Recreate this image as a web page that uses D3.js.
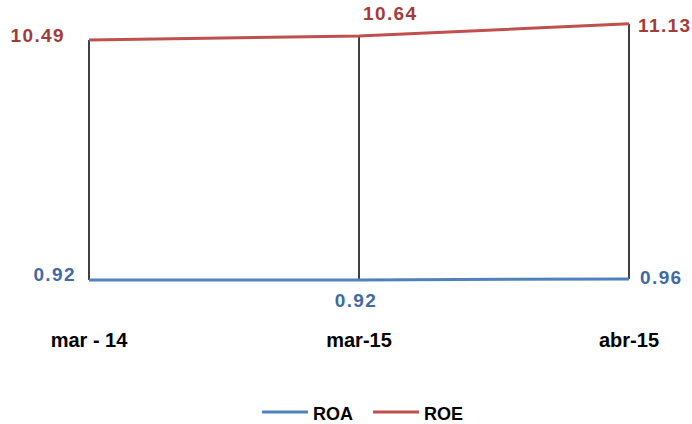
<!DOCTYPE html>
<html>
<head>
<meta charset="utf-8">
<script src="https://cdn.jsdelivr.net/npm/d3@7"></script>
<style>
  html, body { margin: 0; padding: 0; background: #fff; }
  svg { display: block; }
  text { font-family: "Liberation Sans", Arial, sans-serif; font-weight: bold; }
</style>
</head>
<body>
<script>
const categories = ["mar - 14", "mar-15", "abr-15"];
const roaValues = [0.92, 0.92, 0.96];
const roeValues = [10.49, 10.64, 11.13];
const seriesNames = ["ROA", "ROE"];

const W = 692, H = 424;
const svg = d3.select("body").append("svg").attr("width", W).attr("height", H);

const x = d3.scalePoint().domain(categories).range([89, 629]);
const y = d3.scaleLinear().domain([0, 12]).range([303, 2]);

const colors = { ROA: "#4F81BD", ROE: "#C0504D" };
const labelColors = { ROA: "#3F6AA3", ROE: "#A33B38" };

// drop lines
svg.append("g").selectAll("line").data(categories).join("line")
  .attr("x1", d => x(d)).attr("x2", d => x(d))
  .attr("y1", (d, i) => y(roeValues[i])).attr("y2", (d, i) => y(roaValues[i]))
  .attr("stroke", "#000").attr("stroke-width", 1.5);

const line = d3.line().x((d, i) => x(categories[i])).y(d => y(d));
[["ROA", roaValues], ["ROE", roeValues]].forEach(([name, vals]) => {
  svg.append("path").datum(vals).attr("d", line)
    .attr("fill", "none").attr("stroke", colors[name]).attr("stroke-width", 3);
});

// data labels
const fmt = d3.format(".2f");
const labelStyle = (sel) => sel.attr("font-size", 19).attr("letter-spacing", 1.4);
// placements: [dx, dy, anchor] relative to point
const roePlace = [[-24, 2, "end"], [4, -16, "start"], [9, 8, "start"]];
const roaPlace = [[-13, 1, "end"], [-3, 27, "middle"], [11, 5, "start"]];
[["ROE", roeValues, roePlace], ["ROA", roaValues, roaPlace]].forEach(([name, vals, pl]) => {
  svg.append("g").selectAll("text").data(vals).join("text")
    .attr("x", (d, i) => x(categories[i]) + pl[i][0])
    .attr("y", (d, i) => y(d) + pl[i][1])
    .attr("text-anchor", (d, i) => pl[i][2])
    .attr("fill", labelColors[name])
    .call(labelStyle)
    .text(d => fmt(d));
});

// category labels
svg.append("g").selectAll("text").data(categories).join("text")
  .attr("x", d => x(d)).attr("y", 347)
  .attr("text-anchor", "middle").attr("font-size", 20).attr("fill", "#000")
  .text(d => d);

// legend
const legendItems = [
  { name: "ROA", x: 262 },
  { name: "ROE", x: 373 }
];
const lg = svg.append("g").selectAll("g").data(legendItems).join("g")
  .attr("transform", d => `translate(${d.x},412)`);
lg.append("line").attr("x1", 0).attr("x2", 46).attr("y1", 0).attr("y2", 0)
  .attr("stroke", d => colors[d.name]).attr("stroke-width", 3);
lg.append("text").attr("x", 51).attr("y", 8).attr("font-size", 18).attr("fill", "#000")
  .text(d => d.name);
</script>
</body>
</html>
